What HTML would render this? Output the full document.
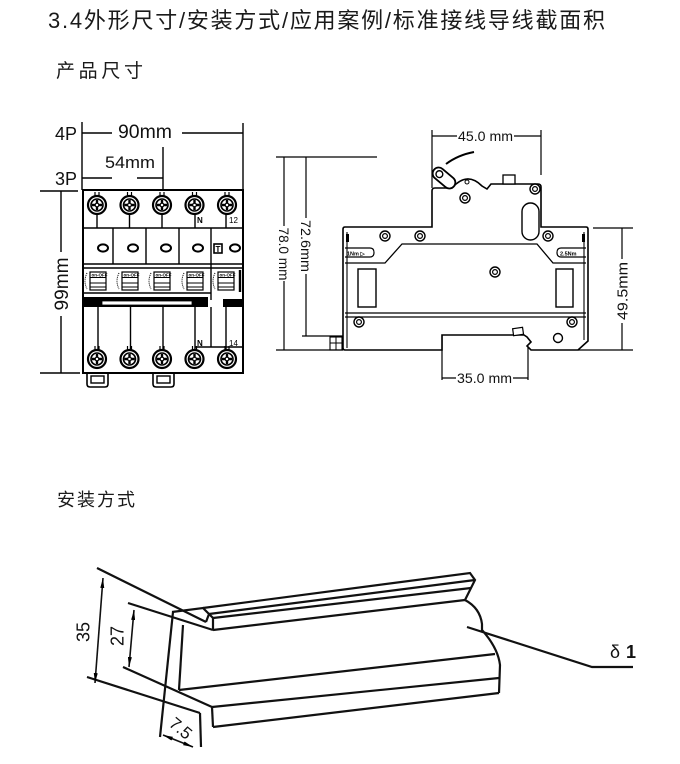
<!DOCTYPE html>
<html>
<head>
<meta charset="utf-8">
<style>
html,body{margin:0;padding:0;background:#fff;}
svg{display:block;}
</style>
</head>
<body>
<svg width="680" height="764" viewBox="0 0 680 764" xmlns="http://www.w3.org/2000/svg" font-family="'Liberation Sans', sans-serif">
<defs>
  <g id="sc">
    <path d="M-2,-9V-13M2,-9V-13" stroke="#000" stroke-width="1.2" fill="none"/>
    <circle r="9" fill="#fff" stroke="#000" stroke-width="2.2"/>
    <circle r="6" fill="none" stroke="#000" stroke-width="1.6"/>
    <path d="M-5,0H5M0,-5V5" stroke="#000" stroke-width="2.4"/>
    <rect x="-1.5" y="-1.5" width="3" height="3" fill="#fff" stroke="#000" stroke-width="0.8"/>
  </g>
  <g id="sv">
    <circle r="5" fill="#fff" stroke="#000" stroke-width="1.4"/>
    <circle r="2.4" fill="none" stroke="#000" stroke-width="1.2"/>
  </g>
  <g id="win">
    <rect x="0" y="0" width="16" height="18" fill="#fff" stroke="#000" stroke-width="1.2"/>
    <path d="M0,5.5H16M0,11H16M0,15H16" stroke="#000" stroke-width="1"/>
    <text x="1.5" y="4.6" font-size="4.5" font-weight="bold" fill="#000">on-OFF</text>
    <path d="M-3,1Q-7,9 -3,17" fill="none" stroke="#000" stroke-width="1" stroke-dasharray="1,1"/>
  </g>
  <marker id="ah" viewBox="0 0 10 4" refX="10" refY="2" markerWidth="10" markerHeight="4" orient="auto-start-reverse" markerUnits="userSpaceOnUse">
    <path d="M0,0L10,2L0,4z" fill="#000"/>
  </marker>
</defs>

<!-- Headings -->
<text x="48" y="28" font-size="22" textLength="557" lengthAdjust="spacing" font-family="'Liberation Sans','Noto Sans CJK SC',sans-serif" fill="#1a1a1a">3.4外形尺寸/安装方式/应用案例/标准接线导线截面积</text>
<text x="56" y="77" font-size="19" textLength="87" lengthAdjust="spacing" font-family="'Liberation Sans','Noto Sans CJK SC',sans-serif" fill="#1a1a1a">产品尺寸</text>
<text x="57" y="506" font-size="18" textLength="78" lengthAdjust="spacing" font-family="'Liberation Sans','Noto Sans CJK SC',sans-serif" fill="#1a1a1a">安装方式</text>

<!-- ================= FRONT VIEW ================= -->
<g stroke="#000" fill="none" stroke-width="1.4">
  <path d="M82,122V190 M82,133H112 M182,133H243 M243,123V190 M82,178H112 M137,178H163 M163,147V190 M40,191H78 M61,191V252 M61,316V373 M40,373H80"/>
</g>
<g fill="#111">
  <text x="55" y="140" font-size="18" textLength="22" lengthAdjust="spacingAndGlyphs">4P</text>
  <text x="118" y="138" font-size="19" textLength="54" lengthAdjust="spacingAndGlyphs">90mm</text>
  <text x="105" y="168" font-size="17" textLength="50" lengthAdjust="spacingAndGlyphs">54mm</text>
  <text x="55" y="185" font-size="18" textLength="22" lengthAdjust="spacingAndGlyphs">3P</text>
  <text transform="translate(61,284) rotate(-90)" text-anchor="middle" dy="0.36em" font-size="19" textLength="53" lengthAdjust="spacingAndGlyphs">99mm</text>
</g>

<g stroke="#000" fill="none" stroke-width="1.4">
  <rect x="83" y="190" width="160" height="183" stroke-width="2"/>
  <path d="M83,228H243"/>
  <path d="M97,214V228 M129.5,214V228 M162,214V228 M195,213V228 M226,205V228"/>
  <path d="M113,228V264 M146,228V264 M179,228V264 M211,228V300"/>
  <ellipse cx="103" cy="248" rx="5" ry="3.6" stroke-width="2"/>
  <ellipse cx="133" cy="248" rx="5" ry="3.6" stroke-width="2"/>
  <ellipse cx="166" cy="248" rx="5" ry="3.6" stroke-width="2"/>
  <ellipse cx="198" cy="248" rx="5" ry="3.6" stroke-width="2"/>
  <ellipse cx="235" cy="248" rx="5" ry="3.6" stroke-width="2"/>
  <rect x="214" y="244" width="8" height="9" stroke-width="1.6"/>
  <path d="M83,264H243 M83,268H243"/>
  <path d="M83,293H211"/>
  <path d="M240,270V292" stroke-width="2.4"/>
  <path d="M98,307V350 M130.5,307V350 M163,307V350 M195,307V350 M211,307V347 M226,307V350"/>
  <path d="M195,347H243"/>
  <path d="M87,373V384Q87,387 90,387H105Q108,387 108,384V373" stroke-width="1.6"/>
  <rect x="91" y="376" width="13" height="7" stroke-width="1.4"/>
  <path d="M153,373V384Q153,387 156,387H171Q174,387 174,384V373" stroke-width="1.6"/>
  <rect x="157" y="376" width="13" height="7" stroke-width="1.4"/>
</g>
<text x="215.5" y="252" font-size="8" font-weight="bold" fill="#000">T</text>
<text x="197" y="223" font-size="8" font-weight="bold" fill="#000">N</text>
<text x="229" y="223" font-size="8" fill="#000">12</text>
<text x="197" y="346" font-size="8" font-weight="bold" fill="#000">N</text>
<text x="229" y="346" font-size="8" fill="#000">14</text>
<use href="#win" x="90" y="272"/>
<use href="#win" x="122" y="272"/>
<use href="#win" x="154" y="272"/>
<use href="#win" x="187" y="272"/>
<use href="#win" x="218" y="272"/>
<rect x="83" y="297" width="125" height="10" fill="#000"/>
<rect x="102" y="301" width="90" height="4" fill="#fff" stroke="#000" stroke-width="0.8"/>
<rect x="223" y="299" width="20" height="8" fill="#000"/>
<use href="#sc" x="97" y="205"/>
<use href="#sc" x="129.5" y="205"/>
<use href="#sc" x="162" y="205"/>
<use href="#sc" x="194.5" y="205"/>
<use href="#sc" x="227" y="205"/>
<use href="#sc" x="97" y="359"/>
<use href="#sc" x="129.5" y="359"/>
<use href="#sc" x="162" y="359"/>
<use href="#sc" x="194.5" y="359"/>
<use href="#sc" x="227" y="359"/>

<!-- ================= SIDE VIEW ================= -->
<g stroke="#000" fill="none" stroke-width="1.2">
  <path d="M432,130V188 M541,130V175 M432,136H457 M514,136H541"/>
  <path d="M276,157H377 M284,157V226 M284,281V350 M276,350H343"/>
  <path d="M306,157V218 M306,274V336 M302,336H377 M403,336H442"/>
  <path d="M593,228H633 M622,228V259 M622,323V350 M578,350H633"/>
  <path d="M442,335V380 M528,347V380 M442,378H456 M513,378H528"/>
</g>
<g fill="#111">
  <text x="458" y="141" font-size="14" textLength="55" lengthAdjust="spacingAndGlyphs">45.0 mm</text>
  <text x="457" y="383" font-size="14" textLength="55" lengthAdjust="spacingAndGlyphs">35.0 mm</text>
  <text transform="translate(284,254) rotate(90)" text-anchor="middle" dy="0.36em" font-size="14" textLength="53" lengthAdjust="spacingAndGlyphs">78.0 mm</text>
  <text transform="translate(306,246) rotate(90)" text-anchor="middle" dy="0.36em" font-size="14" textLength="52" lengthAdjust="spacingAndGlyphs">72.6mm</text>
  <text transform="translate(622,291) rotate(-90)" text-anchor="middle" dy="0.36em" font-size="15" textLength="58" lengthAdjust="spacingAndGlyphs">49.5mm</text>
</g>
<g stroke="#000" fill="none" stroke-width="1.6">
  <path d="M446,164Q458,155 474,152" stroke-width="2"/>
  <path d="M343,229Q343,227 345,227L432,227L432,191Q432,188 435,188L452,188Q467,171 482,186L487,189L491,184L538,184Q541,184 541,187L541,227L586,227Q588,227 588,229L588,341L578,350L531,350L527,346L531,342L527,337L524,335L442,335L442,350L345,350Q343,350 343,348Z" fill="#fff"/>
  <g transform="translate(444,178) rotate(40)">
    <rect x="-13" y="-6" width="26" height="12" rx="6" fill="#fff" stroke-width="1.8"/>
    <circle cx="-6" cy="0" r="3.4" stroke-width="1.4"/>
  </g>
  <rect x="503" y="175" width="12" height="9" fill="#fff" stroke-width="1.3"/>
  <path d="M347,232V348 M584,232V340" stroke-width="1.1"/>
  <path d="M345,263H385L402,244H537L553,263H586" stroke-width="1.3"/>
  <path d="M345,313H586 M345,317H586" stroke-width="1.2"/>
  <rect x="358" y="269" width="18" height="38" stroke-width="1.4"/>
  <rect x="556" y="269" width="17" height="38" stroke-width="1.4"/>
  <rect x="522" y="203" width="17" height="37" rx="8.5" stroke-width="1.4"/>
  <circle cx="558" cy="338" r="4.5" stroke-width="1.4"/>
  <rect x="330" y="337" width="12" height="13" stroke-width="1.1"/>
  <path d="M330,343H342 M336,337V350" stroke-width="1"/>
  <rect x="513" y="328" width="10" height="7" transform="rotate(-8 518 331)" fill="#fff" stroke-width="1.2"/>
  <path d="M345,248H370Q374,248 374,252.5Q374,257 370,257H345" stroke-width="1.2"/>
  <path d="M586,248H561Q557,248 557,252.5Q557,257 561,257H586" stroke-width="1.2"/>
</g>
<rect x="346" y="234" width="3" height="8" fill="#000"/>
<rect x="582" y="234" width="3" height="8" fill="#000"/>
<text x="347" y="255.3" font-size="5.5" font-weight="bold" fill="#000">1Nm ▷</text>
<text x="560" y="255.3" font-size="5.5" font-weight="bold" fill="#000">2.5Nm</text>
<use href="#sv" x="465" y="198"/>
<use href="#sv" x="535" y="189"/>
<use href="#sv" x="385" y="236"/>
<use href="#sv" x="420" y="236"/>
<use href="#sv" x="548" y="236"/>
<use href="#sv" x="495" y="272"/>
<use href="#sv" x="359" y="322"/>
<use href="#sv" x="572" y="322"/>
<circle cx="467" cy="182" r="2" fill="none" stroke="#000" stroke-width="1"/>

<!-- ================= DIN RAIL ================= -->
<g stroke="#111" fill="none" stroke-width="2.2" stroke-linejoin="miter">
  <path d="M97,568L206,622"/>
  <path d="M128,603L213,630"/>
  <path d="M123,667L212,707"/>
  <path d="M87,677L200,713"/>
  <path d="M103,578L95,683" stroke-width="1.6" marker-start="url(#ah)" marker-end="url(#ah)"/>
  <path d="M134,610L129,667" stroke-width="1.6" marker-start="url(#ah)" marker-end="url(#ah)"/>
  <path d="M163,735L193,747" stroke-width="1.6" marker-start="url(#ah)" marker-end="url(#ah)"/>
  <path d="M200,713L201,747"/>
  <path d="M172,612L203,608L209,614L206,622"/>
  <path d="M209,614L213,618V630"/>
  <path d="M203,608L470,573L475,580L465,600"/>
  <path d="M209,614L475,580"/>
  <path d="M213,618L471,588"/>
  <path d="M213,630L465,600"/>
  <path d="M465,600Q480,608 482,624L482,630Q498,648 500,665L499,693"/>
  <path d="M173,612L160,737"/>
  <path d="M183,625L179,690"/>
  <path d="M179,690L495,654"/>
  <path d="M212,707L499,678"/>
  <path d="M212,707L213,727"/>
  <path d="M213,727L499,693"/>
  <path d="M467,627L592,667H633"/>
</g>
<g fill="#111">
  <text transform="translate(83,632) rotate(-90)" text-anchor="middle" dy="0.36em" font-size="18">35</text>
  <text transform="translate(117,636) rotate(-90)" text-anchor="middle" dy="0.36em" font-size="18">27</text>
  <text transform="translate(181,728) rotate(40)" text-anchor="middle" dy="0.36em" font-size="17">7.5</text>
  <text x="610" y="658" font-size="18">δ</text>
  <text x="626" y="658" font-size="18" font-weight="bold">1</text>
</g>
</svg>
</body>
</html>
